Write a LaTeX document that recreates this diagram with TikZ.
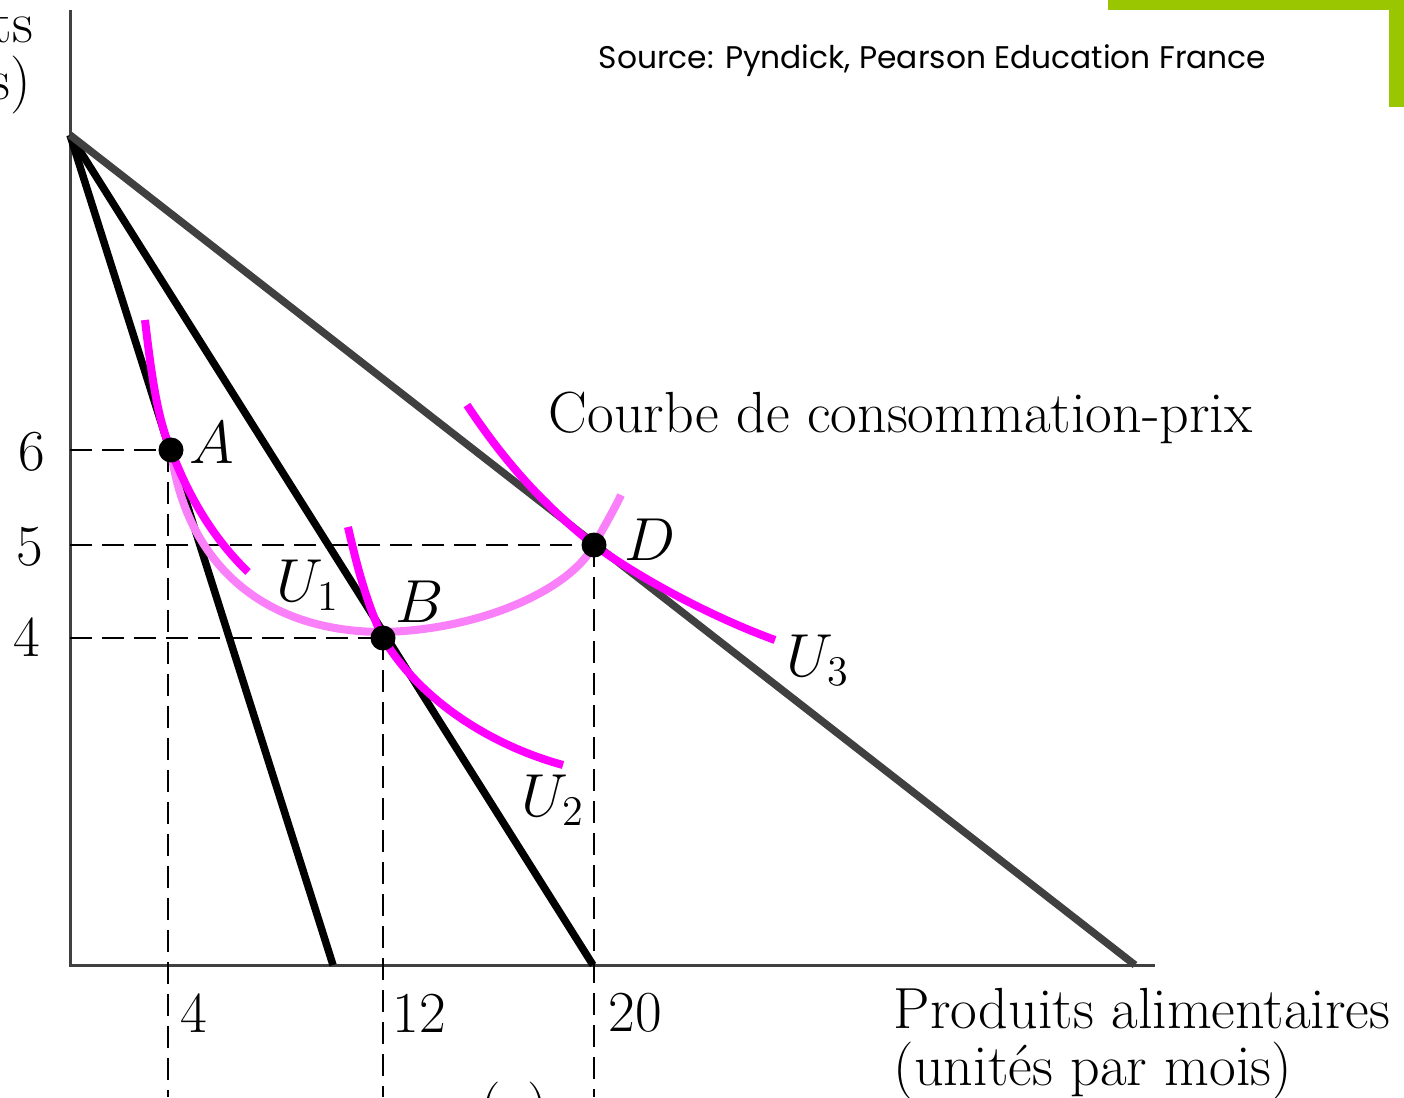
\documentclass[tikz,border=0pt]{standalone}
\usepackage{fontspec}
\newfontfamily\srcfont{Poppins}
\usetikzlibrary{calc,positioning}
\definecolor{leaf}{RGB}{153,198,0}
\definecolor{axisgray}{RGB}{64,64,64}
\definecolor{magentaU}{RGB}{255,0,255}
\definecolor{pcc}{RGB}{250,128,250}
\tikzset{
	axis/.style = {draw=axisgray, line width=0.03cm},
	budget/.style = {line width=0.075cm},
	guide/.style = {line width=0.025cm, dash pattern=on 0.22cm off 0.1cm},
	indiff/.style = {draw=magentaU, line width=0.08cm},
	pricecurve/.style = {draw=pcc, line width=0.08cm},
	point/.style = {circle, fill, inner sep=0pt, minimum size=0.25cm, node contents={}},
	lbl/.style = {inner sep=0pt, font=\fontsize{16.5}{19}\selectfont}
}

\begin{document}
\begin{tikzpicture}[x=0.01cm,y=-0.01cm]
    \useasboundingbox (0,0) rectangle (1404,1097);
    \clip (0,0) rectangle (1404,1097);

    % frame corner
    \fill[leaf] (1108,0) rectangle (1404,10);
    \fill[leaf] (1389,0) rectangle (1404,107);

    % axes
    \coordinate (O) at (70,965);
    \coordinate (ytop) at (70,10);
    \coordinate (xend) at (1155,965);
    \draw[axis] (ytop) -- (O) -- (xend);

    % budget lines
    \coordinate (I) at (70,135);
    \coordinate (x1) at (333,965);
    \coordinate (x2) at (593,965);
    \coordinate (x3) at (1135,965);
    \path (I) [budget] edge (x1);
    \path (I) [budget] edge (x2);
    \path (I) [budget, draw=axisgray] edge (x3);

    % equilibria
    \coordinate (A) at (171,450);
    \coordinate (B) at (383,638);
    \coordinate (D) at (594,545);

    % guides
    \draw[guide] (70,450) -- (A);
    \draw[guide] (70,545) -- (D);
    \draw[guide] (70,638) -- (B);
    \draw[guide] (168,450) -- (168,1097);
    \draw[guide] (383,638) -- (383,1097);
    \draw[guide] (594,545) -- (594,1097);

    % price-consumption curve
    \draw[pricecurve] (A) .. controls (185,560) and (260,632) .. (383,632)
        .. controls (480,630) and (570,590) .. (D)
        .. controls (605,525) and (614,510) .. (621,495);

    % indifference curves
    \draw[indiff] (145,320) .. controls (152,380) and (158,420) .. (A)
        .. controls (190,500) and (215,540) .. (248,572);
    \draw[indiff] (348,527) .. controls (360,580) and (370,610) .. (B)
        .. controls (420,700) and (490,745) .. (563,765);
    \draw[indiff] (467,405) .. controls (510,470) and (550,510) .. (D)
        .. controls (650,585) and (720,620) .. (775,640);

    \node at (A) [point];
    \node at (B) [point];
    \node at (D) [point];

    % labels
    \node[lbl] (lA) at (212,443) {$A$};
    \node[lbl] (lB) at (420,602) {$B$};
    \node[lbl] (lD) at (650,540) {$D$};
    \node[lbl] (lU1) at (308,585) {$U_1$};
    \node[lbl] (lU2) at (553,800) {$U_2$};
    \node[lbl] (lU3) at (818,660) {$U_3$};

    \node[lbl] (y6) at (32,452) {6};
    \node[lbl] (y5) at (30,547) {5};
    \node[lbl] (y4) at (27,637) {4};
    \node[lbl, anchor=west] (x4) at (180,1013) {4};
    \node[lbl, anchor=west] (x12) at (392,1013) {12};
    \node[lbl, anchor=west] (x20) at (608,1013) {20};

    \node[lbl, anchor=west] (pcclbl) at (548,418) {Courbe de consommation-prix};
    \node[lbl, anchor=base west] (xlbl) at (893,1028) {Produits alimentaires};
    \node[lbl, anchor=base west] (xunit) at (893,1085) {(unités par mois)};
    \node[lbl, anchor=east] (ylbl) at (34,25) {ts};
    \node[lbl, anchor=east] (yunit) at (32,85) {s)};
    \node[lbl, anchor=north] (panel) at (514,1081) {(a)};

    \node[anchor=west, inner sep=0pt, font=\srcfont\fontsize{8.9}{11}\selectfont] (src) at (598,61) {Source: Pyndick, Pearson Education France};
\end{tikzpicture}
\end{document}
